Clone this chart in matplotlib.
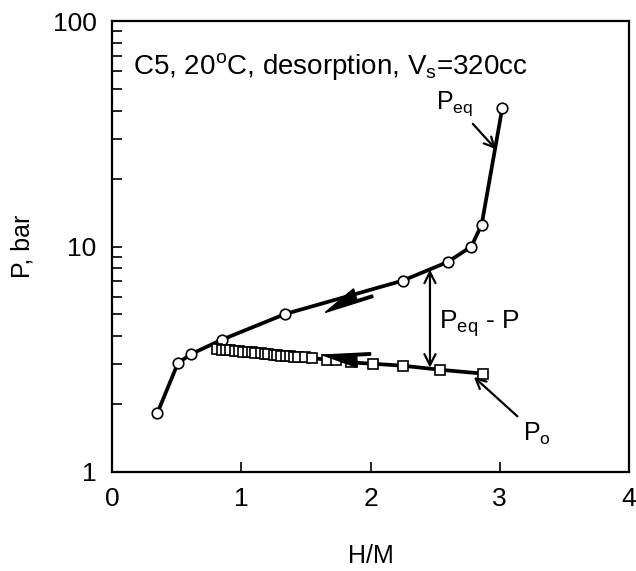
import matplotlib
matplotlib.use("Agg")
import matplotlib.pyplot as plt
from matplotlib.patches import FancyArrow
from matplotlib.transforms import IdentityTransform
from matplotlib.ticker import LogLocator, NullFormatter

plt.rcParams["font.family"] = "Liberation Sans"
plt.rcParams["mathtext.fontset"] = "custom"
plt.rcParams["mathtext.rm"] = "Liberation Sans"
plt.rcParams["mathtext.it"] = "Liberation Sans:italic"

# equilibrium pressure (circles)
hm_eq = [0.35, 0.51, 0.61, 0.85, 1.34, 2.25, 2.60, 2.78, 2.86, 3.02]
p_eq = [1.82, 3.04, 3.33, 3.86, 5.02, 7.06, 8.55, 10.0, 12.5, 41.3]

# measured pressure (squares)
hm_o = [0.81, 0.85, 0.88, 0.91, 0.95, 0.98, 1.01, 1.05, 1.08, 1.11, 1.15,
        1.18, 1.21, 1.25, 1.28, 1.31, 1.35, 1.38, 1.41, 1.44, 1.49, 1.55,
        1.66, 1.73, 1.85, 2.02, 2.25, 2.54, 2.87]
p_o = [3.51, 3.49, 3.48, 3.46, 3.45, 3.43, 3.42, 3.40, 3.39, 3.37, 3.36,
       3.34, 3.33, 3.31, 3.30, 3.28, 3.27, 3.26, 3.25, 3.24, 3.23, 3.20,
       3.15, 3.14, 3.06, 3.02, 2.96, 2.84, 2.73]

fig = plt.figure(figsize=(6.36, 5.71), dpi=100)
ax = fig.add_axes([0.1761, 0.1734, 0.8129, 0.7898])

ax.plot(hm_eq, p_eq, "-", color="black", lw=2.7, zorder=2)
ax.plot(hm_eq, p_eq, "o", ms=7.6, mfc="white", mec="black", mew=1.2, zorder=3)
ax.plot(hm_o, p_o, "-", color="black", lw=2.7, zorder=2)
ax.plot(hm_o, p_o, "s", ms=6.8, mfc="white", mec="black", mew=1.2, zorder=3)

ax.set_yscale("log")
ax.set_xlim(0, 4)
ax.set_ylim(1, 100)
ax.set_xticks([0, 1, 2, 3, 4])
ax.set_yticks([1, 10, 100], labels=["1", "10", "100"])
ax.yaxis.set_minor_locator(LogLocator(subs=range(2, 10)))
ax.yaxis.set_minor_formatter(NullFormatter())
ax.tick_params(which="major", direction="in", length=7, width=1.2, labelsize=19, pad=11)
ax.tick_params(which="minor", direction="in", length=7, width=1.2)
for s in ax.spines.values():
    s.set_linewidth(1.6)

ax.set_xlabel("H/M", fontsize=18)
ax.xaxis.set_label_coords(0.5, -0.16)
ax.set_ylabel("P, bar", fontsize=18)
ax.yaxis.set_label_coords(-0.15, 0.5)

ax.text(0.04, 0.9, r"C5, 20$^\mathrm{o}$C, desorption, V$_\mathrm{s}$=320cc",
        transform=ax.transAxes, fontsize=20, va="center", ha="left")

ax.annotate(r"P$_\mathrm{eq}$", xy=(2.97, 27), xytext=(2.65, 43),
            fontsize=18, ha="center", va="center",
            arrowprops=dict(arrowstyle="->", lw=1.6, color="black",
                            shrinkA=3, shrinkB=0, mutation_scale=18))

ax.annotate(r"P$_\mathrm{o}$", xy=(2.80, 2.64), xytext=(3.29, 1.47),
            fontsize=18, ha="center", va="center",
            arrowprops=dict(arrowstyle="->", lw=1.6, color="black",
                            shrinkA=3, shrinkB=0, mutation_scale=18))

# gap between the two curves
ax.annotate("", xy=(2.46, 2.9), xytext=(2.46, 7.9),
            arrowprops=dict(arrowstyle="<->", lw=1.6, color="black",
                            shrinkA=0, shrinkB=0, mutation_scale=20))
ax.text(2.53, 4.55, r"P$_\mathrm{eq}$ - P", fontsize=19, va="center", ha="left")


def harpoon(x0, y0, x1, y1, side):
    (px0, py0), (px1, py1) = ax.transData.transform([(x0, y0), (x1, y1)])
    arr = FancyArrow(px0, py0, px1 - px0, py1 - py0, width=5, head_width=28,
                     head_length=34, shape=side, length_includes_head=True,
                     color="black", transform=IdentityTransform(), zorder=4)
    fig.add_artist(arr)


# direction of desorption
harpoon(2.02, 5.95, 1.65, 5.1, "left")
harpoon(2.0, 3.38, 1.63, 3.30, "right")

fig.savefig("out.png", dpi=100)
